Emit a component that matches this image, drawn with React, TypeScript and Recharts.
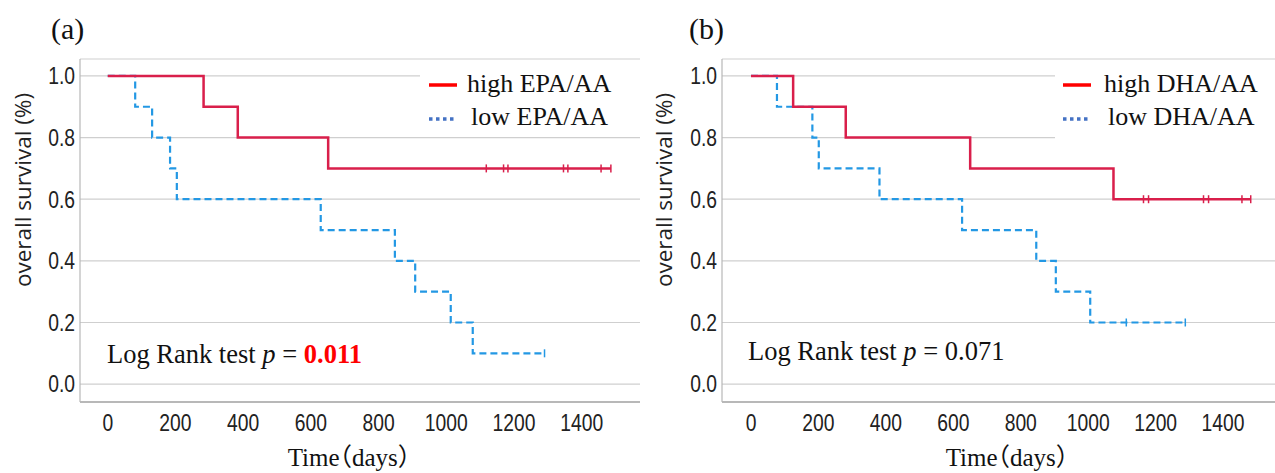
import React from 'react';
import { ComposedChart, Line, Scatter, XAxis, YAxis, CartesianGrid } from 'recharts';

// ---- data (days, survival proportion) ----
const timesHighEPA = [0, 283, 384, 651, 1486];
const survHighEPA = [1.0, 0.9, 0.8, 0.7, 0.7];
const censorHighEPA = [1118, 1169, 1182, 1346, 1359, 1457, 1486];
const censorHighEPAValue = 0.7;

const timesLowEPA = [0, 81, 131, 184, 204, 629, 848, 908, 1013, 1078, 1290];
const survLowEPA = [1.0, 0.9, 0.8, 0.7, 0.6, 0.5, 0.4, 0.3, 0.2, 0.1, 0.1];
const censorLowEPA = [1290];
const censorLowEPAValue = 0.1;

const timesHighDHA = [0, 125, 281, 650, 1075, 1482];
const survHighDHA = [1.0, 0.9, 0.8, 0.7, 0.6, 0.6];
const censorHighDHA = [1164, 1179, 1342, 1357, 1456, 1482];
const censorHighDHAValue = 0.6;

const timesLowDHA = [0, 77, 182, 201, 381, 626, 846, 904, 1006, 1288];
const survLowDHA = [1.0, 0.9, 0.8, 0.7, 0.6, 0.5, 0.4, 0.3, 0.2, 0.2];
const censorLowDHA = [1113, 1288];
const censorLowDHAValue = 0.2;

const xTicks = [0, 200, 400, 600, 800, 1000, 1200, 1400];
const yTicks = [0, 0.2, 0.4, 0.6, 0.8, 1.0];

const RED = '#d91f4b';
const BLUE = '#2398e4';

const toRows = (t: number[], s: number[]) => t.map((v, i) => ({ t: v, s: s[i] }));
const toCensor = (t: number[], v: number) => t.map((x) => ({ t: x, s: v }));

const serif = "'Liberation Serif', 'Times New Roman', 'Noto Sans CJK JP', serif";
const tickFamily = "'Liberation Sans', Arial, sans-serif";

function XTick(props: any) {
  const { x, y, payload } = props;
  return (
    <g transform={`translate(${x},${y}) scale(0.84,1)`}>
      <text x={0} y={0} dy="0.72em" textAnchor="middle" fontFamily={tickFamily} fontSize={23} fill="#222">
        {payload.value}
      </text>
    </g>
  );
}

function YTick(props: any) {
  const { x, y, payload } = props;
  return (
    <g transform={`translate(${x},${y}) scale(0.84,1)`}>
      <text x={0} y={0} dy="0.36em" textAnchor="end" fontFamily={tickFamily} fontSize={23} fill="#222">
        {Number(payload.value).toFixed(1)}
      </text>
    </g>
  );
}

function censorShape(color: string) {
  return (props: any) => {
    const { cx, cy } = props;
    if (cx == null || cy == null) return <g />;
    return <line x1={cx} x2={cx} y1={cy - 4} y2={cy + 4} stroke={color} strokeWidth={1.5} />;
  };
}

type PanelProps = {
  left: number;
  width: number;
  yAxisWidth: number;
  domain: [number, number];
  high: { t: number; s: number }[];
  low: { t: number; s: number }[];
  highC: { t: number; s: number }[];
  lowC: { t: number; s: number }[];
};

function Panel(p: PanelProps) {
  return (
    <div style={{ position: 'absolute', left: p.left, top: 0 }}>
      <ComposedChart width={p.width} height={473} margin={{ top: 59, right: 0, bottom: 0, left: 0 }}>
        <CartesianGrid horizontal vertical={false} stroke="#cfcfcf" strokeWidth={1.2} />
        <XAxis
          type="number"
          dataKey="t"
          domain={p.domain}
          ticks={xTicks}
          allowDataOverflow
          height={71}
          tickLine={false}
          tickSize={0}
          tickMargin={12}
          axisLine={{ stroke: '#a8a8a8', strokeWidth: 1.5 }}
          tick={<XTick />}
        />
        <YAxis
          type="number"
          domain={[-0.058, 1.055]}
          ticks={yTicks}
          allowDataOverflow
          width={p.yAxisWidth}
          tickLine={false}
          tickSize={0}
          tickMargin={5}
          axisLine={{ stroke: '#b8b8b8', strokeWidth: 1.2 }}
          tick={<YTick />}
        />
        <Line
          data={p.low}
          dataKey="s"
          type="stepAfter"
          stroke={BLUE}
          strokeWidth={2.2}
          strokeDasharray="7 4"
          dot={false}
          activeDot={false}
          isAnimationActive={false}
        />
        <Scatter data={p.lowC} dataKey="s" shape={censorShape(BLUE)} isAnimationActive={false} />
        <Line
          data={p.high}
          dataKey="s"
          type="stepAfter"
          stroke={RED}
          strokeWidth={2.5}
          dot={false}
          activeDot={false}
          isAnimationActive={false}
        />
        <Scatter data={p.highC} dataKey="s" shape={censorShape(RED)} isAnimationActive={false} />
      </ComposedChart>
    </div>
  );
}

function Txt(props: { x: number; y: number; size: number; family: string; children: React.ReactNode; anchor?: 'start' | 'middle'; color?: string; rotate?: boolean; halt?: boolean }) {
  const { x, y, size, family, children, anchor = 'start', color = '#111', rotate, halt } = props;
  let transform = 'translate(0,-50%)';
  if (anchor === 'middle') transform = 'translate(-50%,-50%)';
  if (rotate) transform = 'translate(-50%,-50%) rotate(-90deg)';
  return (
    <div
      style={{
        position: 'absolute',
        left: x,
        top: y,
        transform,
        fontFamily: family,
        fontSize: size,
        lineHeight: 1.2,
        color,
        whiteSpace: 'nowrap',
        fontFeatureSettings: halt ? '"halt" 1' : undefined,
      }}
    >
      {children}
    </div>
  );
}

function LegendBox(props: { x: number; y: number; w: number; h: number; lineX: number; textX: number; highLabel: string; lowLabel: string }) {
  const { x, y, w, h, lineX, textX, highLabel, lowLabel } = props;
  return (
    <>
      <div style={{ position: 'absolute', left: x, top: y, width: w, height: h, background: '#fff' }} />
      <svg style={{ position: 'absolute', left: 0, top: 0, overflow: 'visible' }} width={1} height={1}>
        <line x1={lineX} x2={lineX + 28} y1={85} y2={85} stroke="#ff0000" strokeWidth={3.5} />
        <line x1={lineX} x2={lineX + 28} y1={119} y2={119} stroke="#4472c4" strokeWidth={3.5} strokeDasharray="3.5 3.5" />
      </svg>
      <Txt x={textX} y={84} size={26} family={serif}>{highLabel}</Txt>
      <Txt x={textX + 4} y={117} size={26} family={serif}>{lowLabel}</Txt>
    </>
  );
}

const sansLabel = "'Open Sans', 'Noto Sans', sans-serif";

export default function App() {
  return (
    <div style={{ position: 'absolute', left: 0, top: 0, width: 1275, height: 473, background: '#fff', overflow: 'hidden' }}>
      <Panel
        left={0}
        width={640}
        yAxisWidth={80}
        domain={[-82, 1572]}
        high={toRows(timesHighEPA, survHighEPA)}
        low={toRows(timesLowEPA, survLowEPA)}
        highC={toCensor(censorHighEPA, censorHighEPAValue)}
        lowC={toCensor(censorLowEPA, censorLowEPAValue)}
      />
      <Panel
        left={640}
        width={635}
        yAxisWidth={82}
        domain={[-86, 1554]}
        high={toRows(timesHighDHA, survHighDHA)}
        low={toRows(timesLowDHA, survLowDHA)}
        highC={toCensor(censorHighDHA, censorHighDHAValue)}
        lowC={toCensor(censorLowDHA, censorLowDHAValue)}
      />

      <LegendBox x={420} y={60} w={220} h={70} lineX={429} textX={467} highLabel="high EPA/AA" lowLabel="low EPA/AA" />
      <LegendBox x={1055} y={60} w={220} h={84} lineX={1063} textX={1104} highLabel="high DHA/AA" lowLabel="low DHA/AA" />

      <Txt x={51} y={29} size={30} family={serif}>(a)</Txt>
      <Txt x={689} y={29} size={30} family={serif}>(b)</Txt>

      <Txt x={22} y={190} size={22.5} family={sansLabel} rotate color="#222">overall survival (%)</Txt>
      <Txt x={663} y={190} size={22.5} family={sansLabel} rotate color="#222">overall survival (%)</Txt>

      <Txt x={349} y={458} size={25} family={serif} anchor="middle" halt>Time（days）</Txt>
      <Txt x={1007} y={458} size={25} family={serif} anchor="middle" halt>Time（days）</Txt>

      <Txt x={107} y={355} size={26.5} family={serif}>
        Log Rank test <i>p</i> = <b style={{ color: '#ff0000' }}>0.011</b>
      </Txt>
      <Txt x={748} y={352} size={26.5} family={serif}>
        Log Rank test <i>p</i> = 0.071
      </Txt>
    </div>
  );
}
